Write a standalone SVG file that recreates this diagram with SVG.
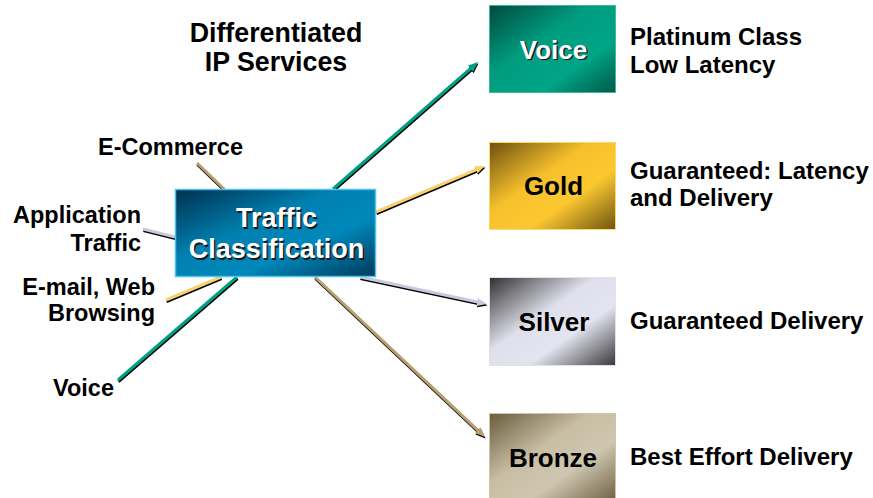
<svg xmlns="http://www.w3.org/2000/svg" width="873" height="498" viewBox="0 0 873 498">
<style>
text{font-family:"Liberation Sans",Arial,sans-serif;font-weight:bold;fill:#000}
.lbl{font-size:23.5px}
.rl{font-size:24px}
.box{font-size:26px}
.wt{fill:#fff}
.sh{fill:#1a1a1a}
.c{text-anchor:middle}
.e{text-anchor:end}
.ln{stroke-width:3;fill:none}
.shd{stroke:#000;stroke-width:3;fill:none}
</style>
<defs>
<linearGradient id="gTraffic" x1="0" y1="0" x2="1" y2="1">
<stop offset="0" stop-color="#00304f"/><stop offset="0.4" stop-color="#0080b0"/><stop offset="0.65" stop-color="#0088ba"/><stop offset="1" stop-color="#003a5a"/>
</linearGradient>
<linearGradient id="gVoice" x1="0" y1="0" x2="1" y2="1">
<stop offset="0" stop-color="#004a3c"/><stop offset="0.4" stop-color="#009c80"/><stop offset="0.7" stop-color="#00a486"/><stop offset="1" stop-color="#005848"/>
</linearGradient>
<linearGradient id="gGold" x1="0" y1="0" x2="1" y2="1">
<stop offset="0" stop-color="#6e5010"/><stop offset="0.4" stop-color="#f6c02c"/><stop offset="0.65" stop-color="#fcc830"/><stop offset="1" stop-color="#6e5410"/>
</linearGradient>
<linearGradient id="gSilver" x1="0" y1="0" x2="1" y2="1">
<stop offset="0" stop-color="#303030"/><stop offset="0.42" stop-color="#e0e0ec"/><stop offset="0.65" stop-color="#e4e4f0"/><stop offset="1" stop-color="#383838"/>
</linearGradient>
<linearGradient id="gBronze" x1="0" y1="0" x2="1" y2="1">
<stop offset="0" stop-color="#6a5c3c"/><stop offset="0.4" stop-color="#c8bea4"/><stop offset="0.65" stop-color="#cec6b0"/><stop offset="1" stop-color="#6e6042"/>
</linearGradient>
<marker id="aTeal" markerUnits="userSpaceOnUse" markerWidth="12" markerHeight="10" refX="4" refY="4" orient="auto"><path d="M0,0 L10,4 L0,8 z" fill="#00a080"/></marker>
<marker id="aGold" markerUnits="userSpaceOnUse" markerWidth="12" markerHeight="10" refX="4" refY="4" orient="auto"><path d="M0,0 L10,4 L0,8 z" fill="#f8d070"/></marker>
<marker id="aSilver" markerUnits="userSpaceOnUse" markerWidth="12" markerHeight="10" refX="4" refY="4" orient="auto"><path d="M0,0 L10,4 L0,8 z" fill="#c8c8e0"/></marker>
<marker id="aBronze" markerUnits="userSpaceOnUse" markerWidth="12" markerHeight="10" refX="4" refY="4" orient="auto"><path d="M0,0 L10,4 L0,8 z" fill="#b8a070"/></marker>
<marker id="aBlack" markerUnits="userSpaceOnUse" markerWidth="12" markerHeight="10" refX="4" refY="4" orient="auto"><path d="M0,0 L10,4 L0,8 z" fill="#000"/></marker>
</defs>
<rect width="873" height="498" fill="#fff"/>

<g id="title">
<text class="c" x="276" y="42" font-size="26.8">Differentiated</text>
<text class="c" x="276" y="71" font-size="26.8">IP Services</text>
</g>

<g id="connectors">
<g transform="translate(0.5,1.5)">
<line class="shd" x1="197" y1="163" x2="224" y2="189"/>
<line class="shd" x1="143" y1="229" x2="175" y2="237"/>
<line class="shd" x1="166" y1="300" x2="221" y2="277"/>
<line class="shd" x1="118" y1="380" x2="237" y2="277"/>
<line class="shd" x1="333" y1="189" x2="473.5" y2="66" marker-end="url(#aBlack)"/>
<line class="shd" x1="376" y1="212" x2="479.5" y2="168.3" marker-end="url(#aBlack)"/>
<line class="shd" x1="360" y1="277" x2="481.1" y2="302.8" marker-end="url(#aBlack)"/>
<line class="shd" x1="315" y1="277" x2="480.6" y2="432.9" marker-end="url(#aBlack)"/>
</g>
<line class="ln" stroke="#b8a070" x1="197" y1="163" x2="224" y2="189"/>
<line class="ln" stroke="#c8c8e0" x1="143" y1="229" x2="175" y2="237"/>
<line class="ln" stroke="#f8d070" x1="166" y1="300" x2="221" y2="277"/>
<line class="ln" stroke="#00a080" x1="118" y1="380" x2="237" y2="277"/>
<line class="ln" stroke="#00a080" x1="333" y1="189" x2="473.5" y2="66" marker-end="url(#aTeal)"/>
<line class="ln" stroke="#f8d070" x1="376" y1="212" x2="479.5" y2="168.3" marker-end="url(#aGold)"/>
<line class="ln" stroke="#c8c8e0" x1="360" y1="277" x2="481.1" y2="302.8" marker-end="url(#aSilver)"/>
<line class="ln" stroke="#b8a070" x1="315" y1="277" x2="480.6" y2="432.9" marker-end="url(#aBronze)"/>
</g>

<g id="traffic">
<rect x="175.5" y="189.5" width="200" height="87" fill="url(#gTraffic)" stroke="#4cc4f0" stroke-width="1.5"/>
<text class="c sh" x="278" y="228.5" font-size="27">Traffic</text>
<text class="c wt" x="276.5" y="227" font-size="27">Traffic</text>
<text class="c sh" x="278" y="259.5" font-size="27">Classification</text>
<text class="c wt" x="276.5" y="258" font-size="27">Classification</text>
</g>

<g id="voice">
<rect x="489.5" y="5.5" width="126" height="87" fill="url(#gVoice)" stroke="#40b8a0" stroke-width="1"/>
<text class="c box sh" x="555" y="60">Voice</text>
<text class="c box wt" x="553.5" y="58.5">Voice</text>
</g>

<g id="gold">
<rect x="489.5" y="142.5" width="126" height="87" fill="url(#gGold)" stroke="#fcd870" stroke-width="1"/>
<text class="c box" x="553.5" y="195">Gold</text>
</g>

<g id="silver">
<rect x="489.5" y="277.5" width="126" height="88" fill="url(#gSilver)" stroke="#e0e0ee" stroke-width="1"/>
<text class="c box" x="554" y="331">Silver</text>
</g>

<g id="bronze">
<rect x="489.5" y="413.5" width="126" height="88" fill="url(#gBronze)" stroke="#d0c4a8" stroke-width="1"/>
<text class="c box" x="553" y="467">Bronze</text>
</g>

<g id="left-labels">
<text class="lbl c" x="170.5" y="155">E-Commerce</text>
<text class="lbl e" x="141" y="223">Application</text>
<text class="lbl e" x="141" y="251">Traffic</text>
<text class="lbl e" x="155" y="295">E-mail, Web</text>
<text class="lbl e" x="155" y="321">Browsing</text>
<text class="lbl e" x="114" y="396">Voice</text>
</g>

<g id="right-labels">
<text class="rl" x="630" y="45">Platinum Class</text>
<text class="rl" x="630" y="73">Low Latency</text>
<text class="rl" x="630" y="179">Guaranteed: Latency</text>
<text class="rl" x="630" y="206">and Delivery</text>
<text class="rl" x="630" y="329">Guaranteed Delivery</text>
<text class="rl" x="630" y="465">Best Effort Delivery</text>
</g>
</svg>
